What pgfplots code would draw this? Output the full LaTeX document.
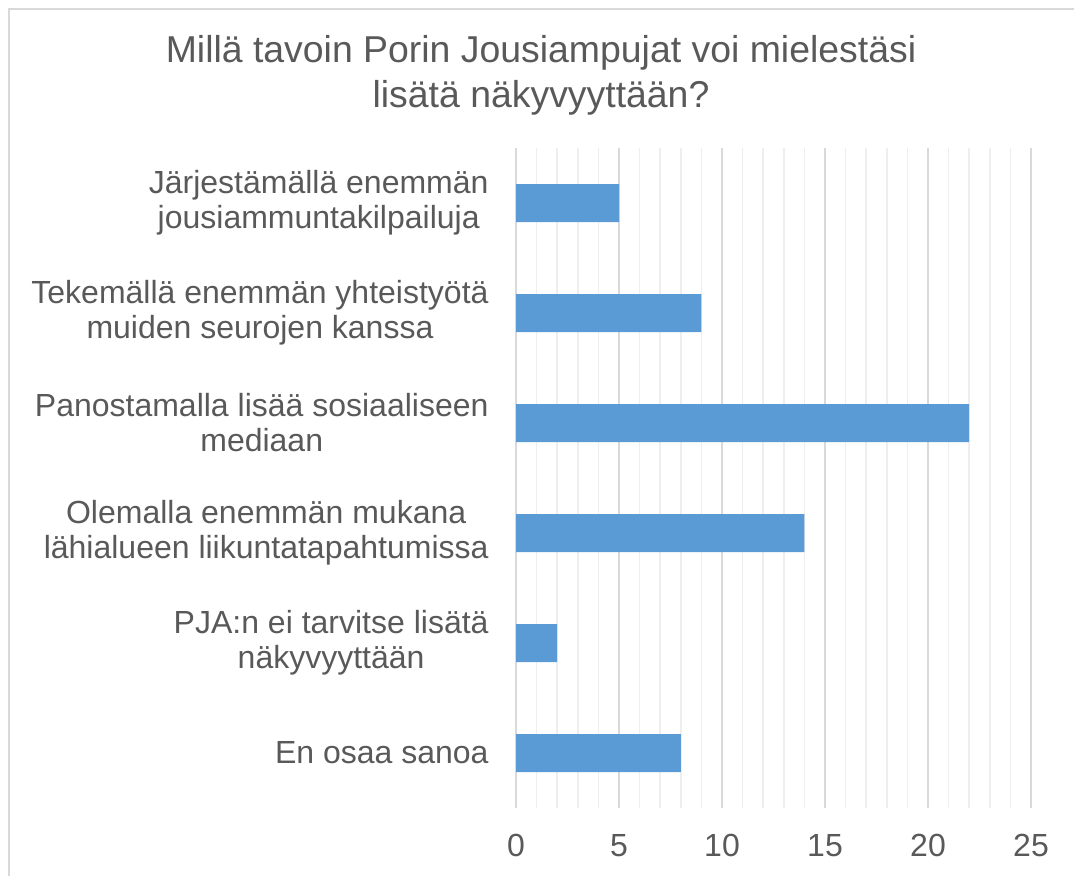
\documentclass[border=0pt]{standalone}
\usepackage{pgfplots}
\pgfplotsset{compat=1.18}
\usepackage{fontspec}
\setmainfont{Liberation Sans}
\definecolor{barblue}{HTML}{5B9BD5}
\definecolor{txt}{HTML}{595959}
\definecolor{majgrid}{HTML}{D9D9D9}
\definecolor{mingrid}{HTML}{EEEEEE}
\begin{document}
\begin{tikzpicture}
% picture frame: 1 px = 0.5 pt, origin at top left
\useasboundingbox (0,0) rectangle (537pt,-437.5pt);
\draw[majgrid, line width=1pt] (4.5pt,-4.5pt) rectangle (560pt,-460pt);
\node[align=center, text=txt, font=\fontsize{18.7}{22.5}\selectfont]
  at (270.5pt,-37.5pt) {Millä tavoin Porin Jousiampujat voi mielestäsi\\lisätä näkyvyyttään?};
\begin{axis}[
  at={(258pt,-404pt)}, anchor=south west,
  scale only axis,
  width=257.5pt, height=330pt,
  xbar,
  bar width=19pt,
  xmin=0, xmax=25,
  ymin=-0.5, ymax=5.5,
  y dir=reverse,
  ytick={0,...,5},
  yticklabels={
    {Järjestämällä enemmän\\jousiammuntakilpailuja},
    {Tekemällä enemmän yhteistyötä\\muiden seurojen kanssa},
    {Panostamalla lisää sosiaaliseen\\mediaan},
    {Olemalla enemmän mukana\\lähialueen liikuntatapahtumissa},
    {PJA:n ei tarvitse lisätä\\näkyvyyttään},
    {En osaa sanoa}},
  xtick={0,5,...,25},
  minor x tick num=4,
  xmajorgrids, xminorgrids,
  major grid style={majgrid, line width=0.8pt},
  minor grid style={mingrid, line width=0.8pt},
  axis line style={draw=none},
  major tick length=0pt, minor tick length=0pt,
  tick label style={font=\fontsize{16}{17.5}\selectfont, text=txt},
  /pgf/number format/assume math mode=true,
  yticklabel style={align=center, xshift=-10.2pt},
  xticklabel style={yshift=-9.5pt},
]
\addplot[fill=barblue, draw=none]
  coordinates {(5,0) (9,1) (22,2) (14,3) (2,4) (8,5)};
\end{axis}
\end{tikzpicture}
\end{document}
